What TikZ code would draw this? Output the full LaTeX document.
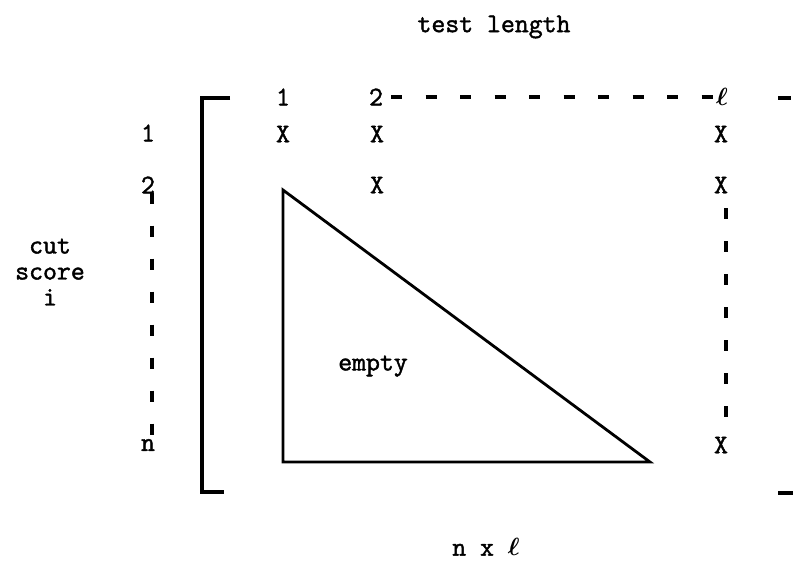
\documentclass[tikz,border=0pt]{standalone}
\usepackage{amsmath}
\usepackage{fontspec}
\setmonofont{Latin Modern Mono}[FakeBold=1.6]
\usetikzlibrary{positioning}

\begin{document}
\begin{tikzpicture}[
  x=1pt, y=-1pt,
  font=\ttfamily\fontsize{27}{28}\selectfont,
  lbl/.style={inner sep=1pt, anchor=center},
  entry/.style={inner sep=1pt, anchor=center},
  rule/.style={line width=3.4pt},
  edge/.style={line width=2.8pt, line join=miter},
  dots/.style={line width=3.2pt, dash pattern=on 11pt off 22pt},
  hdots/.style={line width=3.2pt, dash pattern=on 11pt off 23.5pt},
]
\useasboundingbox (0,0) rectangle (793,581);

% ---- axis titles ----
\node[lbl] (title) at (494,27) {test length};
\node[lbl, align=center] (cut) at (50,272) {cut\\[-2pt]score\\[-2pt]i};
\node[lbl] (size) at (486,547) {n x $\boldsymbol{\ell}$};

% ---- column and row labels ----
\node[lbl] (c1) at (283,97) {1};
\node[lbl] (c2) at (376,97) {2};
\node[lbl] (cl) at (722,97) {$\boldsymbol{\ell}$};
\node[lbl] (r1) at (148,133) {1};
\node[lbl] (r2) at (148,185) {2};
\node[lbl] (rn) at (148,445) {n};
\path (c2.east) ++(7,0) coordinate (ca);
\draw[hdots] (ca) -- (cl.west);
\path (r2.south) ++(4,-2) coordinate (ra) (rn.north) ++(4,-1) coordinate (rb);
\draw[dots] (ra) -- (rb);

% ---- entries ----
\node[entry] (x11) at (283,134) {X};
\node[entry] (x12) at (377,134) {X};
\node[entry] (x1l) at (721,134) {X};
\node[entry] (x22) at (377,185) {X};
\node[entry] (x2l) at (721,185) {X};
\node[entry] (xnl) at (721,445) {X};
\path (x2l.south) ++(5,14) coordinate (xa) (xnl.north) ++(5,-16) coordinate (xb);
\draw[dots] (xa) -- (xb);

% ---- brackets ----
\draw[rule] (230,98) -- (202,98) -- (202,492) -- (224,492);
\draw[rule] (778,98) -- (791,98);
\draw[rule] (778,493) -- (793,493);

% ---- empty triangle ----
\coordinate (tt) at (283,190);
\coordinate (tl) at (283,462);
\coordinate (tr) at (650,462);
\draw[edge] (tt) -- (tl) -- (tr) -- cycle;
\node[lbl] (empty) at (373,366) {empty};

\end{tikzpicture}
\end{document}
